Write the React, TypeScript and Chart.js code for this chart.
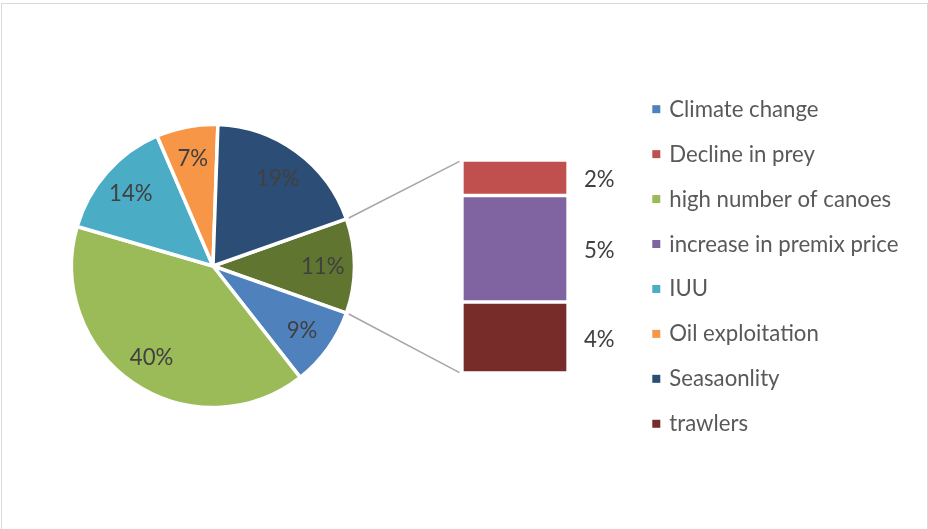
import React, { useEffect, useRef } from "react";
import { Chart, registerables } from "chart.js";

Chart.register(...registerables);

// ---------- data ----------
const pieCategories = ["Climate change", "high number of canoes", "IUU", "Oil exploitation", "Seasaonlity"];
const pieValues = [9, 40, 14, 7, 19];
const otherLabel = "Other";
// secondary (bar of pie) items, listed bottom to top of the stacked bar
const barCategories = ["trawlers", "increase in premix price", "Decline in prey"];
const barValues = [3.6, 5.4, 1.8];
const legendCategories = [
  "Climate change",
  "Decline in prey",
  "high number of canoes",
  "increase in premix price",
  "IUU",
  "Oil exploitation",
  "Seasaonlity",
  "trawlers",
];

const COLORS: Record<string, string> = {
  "Climate change": "#4F81BD",
  "Decline in prey": "#C0504D",
  "high number of canoes": "#9BBB59",
  "increase in premix price": "#8064A2",
  IUU: "#4BACC6",
  "Oil exploitation": "#F79646",
  Seasaonlity: "#2C4D75",
  trawlers: "#772C2A",
  Other: "#5F7530",
};

// ---------- layout ----------
const FONT_FAMILY = "Lato, 'Open Sans', sans-serif";
const FONT_SIZE = 22.2;
const CONTENT_W = 925;
const CONTENT_H = 540;
const PIE_AREA_W = 422;
const PIE_CANVAS_H = 524;
const PIE_RADIUS = 141.5;
const BAR_LEFT = 460;
const BAR_TOP = 156;
const BAR_CANVAS_W = 180;
const BAR_CANVAS_H = 213;
const BAR_W = 106;

export default function App() {
  const pieRef = useRef<HTMLCanvasElement | null>(null);
  const barRef = useRef<HTMLCanvasElement | null>(null);

  useEffect(() => {
    if (!pieRef.current || !barRef.current) return;
    const otherValue = barValues.reduce((a, b) => a + b, 0);
    const primaryLabels = [otherLabel, ...pieCategories];
    const primaryValues = [otherValue, ...pieValues];
    const total = primaryValues.reduce((a, b) => a + b, 0);
    const pct = (v: number) => `${Math.round((v / total) * 100)}%`;
    const font = `${FONT_SIZE}px ${FONT_FAMILY}`;
    const capHalf = FONT_SIZE * 0.358;

    const barLabelPlugin = {
      id: "barLabels",
      afterDatasetsDraw(chart: any) {
        const ctx = chart.ctx;
        ctx.save();
        ctx.font = font;
        ctx.fillStyle = "#404040";
        ctx.textAlign = "left";
        ctx.textBaseline = "alphabetic";
        chart.data.datasets.forEach((ds: any, i: number) => {
          const el: any = chart.getDatasetMeta(i).data[0];
          const { x, y, base, width } = el.getProps(["x", "y", "base", "width"], true);
          const cy = (y + base) / 2 + 1.7;
          ctx.fillText(pct(ds.data[0]), x + width / 2 + 16, cy + capHalf);
        });
        ctx.restore();
      },
    };

    const barChart = new Chart(barRef.current, {
      type: "bar",
      data: {
        labels: [""],
        datasets: barCategories.map((c, i) => ({
          label: c,
          data: [barValues[i]],
          backgroundColor: COLORS[c],
          borderColor: "#FFFFFF",
          borderWidth: 2,
          borderSkipped: false,
          barPercentage: 1,
          categoryPercentage: 1,
        })),
      },
      options: {
        responsive: false,
        animation: false,
        layout: { padding: { left: 0, top: 0, bottom: 0, right: BAR_CANVAS_W - BAR_W } },
        scales: {
          x: { stacked: true, display: false },
          y: { stacked: true, display: false, min: 0, max: otherValue },
        },
        plugins: { legend: { display: false }, tooltip: { enabled: false } },
      },
      plugins: [barLabelPlugin],
    } as any);

    const pieExtras = {
      id: "pieExtras",
      afterDraw(chart: any) {
        const ctx = chart.ctx;
        const meta = chart.getDatasetMeta(0);
        ctx.save();
        // slice labels
        ctx.font = font;
        ctx.fillStyle = "#404040";
        ctx.textAlign = "center";
        ctx.textBaseline = "alphabetic";
        meta.data.forEach((arc: any, i: number) => {
          const { x, y, startAngle, endAngle, outerRadius } = arc.getProps(
            ["x", "y", "startAngle", "endAngle", "outerRadius"],
            true
          );
          const mid = (startAngle + endAngle) / 2;
          const r = outerRadius * 0.775;
          ctx.fillText(pct(primaryValues[i]), x + Math.cos(mid) * r, y + Math.sin(mid) * r + capHalf);
        });

        // connector lines from the "Other" slice to the stacked bar
        const other: any = meta.data[0];
        const o = other.getProps(["x", "y", "startAngle", "endAngle", "outerRadius"], true);
        const topEl: any = barChart.getDatasetMeta(barCategories.length - 1).data[0];
        const botEl: any = barChart.getDatasetMeta(0).data[0];
        const t = topEl.getProps(["x", "y", "width"], true);
        const b = botEl.getProps(["x", "base", "width"], true);
        const barLeft = BAR_LEFT + t.x - t.width / 2;
        const barTop = BAR_TOP + t.y;
        const barBottom = BAR_TOP + b.base;
        const rr = o.outerRadius + 2.5;
        ctx.strokeStyle = "#A6A6A6";
        ctx.lineWidth = 1.5;
        ctx.beginPath();
        ctx.moveTo(o.x + Math.cos(o.startAngle) * rr, o.y + Math.sin(o.startAngle) * rr);
        ctx.lineTo(barLeft - 2.5, barTop + 1.3);
        ctx.moveTo(o.x + Math.cos(o.endAngle) * rr, o.y + Math.sin(o.endAngle) * rr);
        ctx.lineTo(barLeft - 2.5, barBottom - 0.4);
        ctx.stroke();

        // legend
        ctx.font = font;
        ctx.textAlign = "left";
        ctx.textBaseline = "alphabetic";
        legendCategories.forEach((c, i) => {
          const cy = 105.2 + i * 44.94;
          ctx.fillStyle = COLORS[c];
          ctx.fillRect(650.3, cy - 4, 8, 8);
          ctx.fillStyle = "#595959";
          ctx.fillText(c, 667.3, cy + 7.5);
        });
        ctx.restore();
      },
    };

    const otherAngle = (otherValue / total) * 360;
    const pieChart = new Chart(pieRef.current, {
      type: "pie",
      data: {
        labels: primaryLabels,
        datasets: [
          {
            data: primaryValues,
            backgroundColor: primaryLabels.map((l) => COLORS[l]),
            borderColor: "#FFFFFF",
            borderWidth: 3.5,
          },
        ],
      },
      options: {
        responsive: false,
        animation: false,
        radius: PIE_RADIUS,
        rotation: 90 - otherAngle / 2,
        layout: { padding: { left: 0, top: 0, bottom: 0, right: CONTENT_W - PIE_AREA_W } },
        plugins: { legend: { display: false }, tooltip: { enabled: false } },
      },
      plugins: [pieExtras],
    } as any);

    return () => {
      pieChart.destroy();
      barChart.destroy();
    };
  }, []);

  return (
    <div
      style={{
        position: "absolute",
        left: 1,
        top: 3,
        width: CONTENT_W + 2,
        height: CONTENT_H + 2,
        border: "1px solid #D9D9D9",
        boxSizing: "border-box",
        background: "#FFFFFF",
      }}
    >
      <canvas
        ref={pieRef}
        width={CONTENT_W}
        height={PIE_CANVAS_H}
        style={{ position: "absolute", left: 0, top: 0, width: CONTENT_W, height: PIE_CANVAS_H }}
      />
      <canvas
        ref={barRef}
        width={BAR_CANVAS_W}
        height={BAR_CANVAS_H}
        style={{ position: "absolute", left: BAR_LEFT, top: BAR_TOP, width: BAR_CANVAS_W, height: BAR_CANVAS_H }}
      />
    </div>
  );
}
